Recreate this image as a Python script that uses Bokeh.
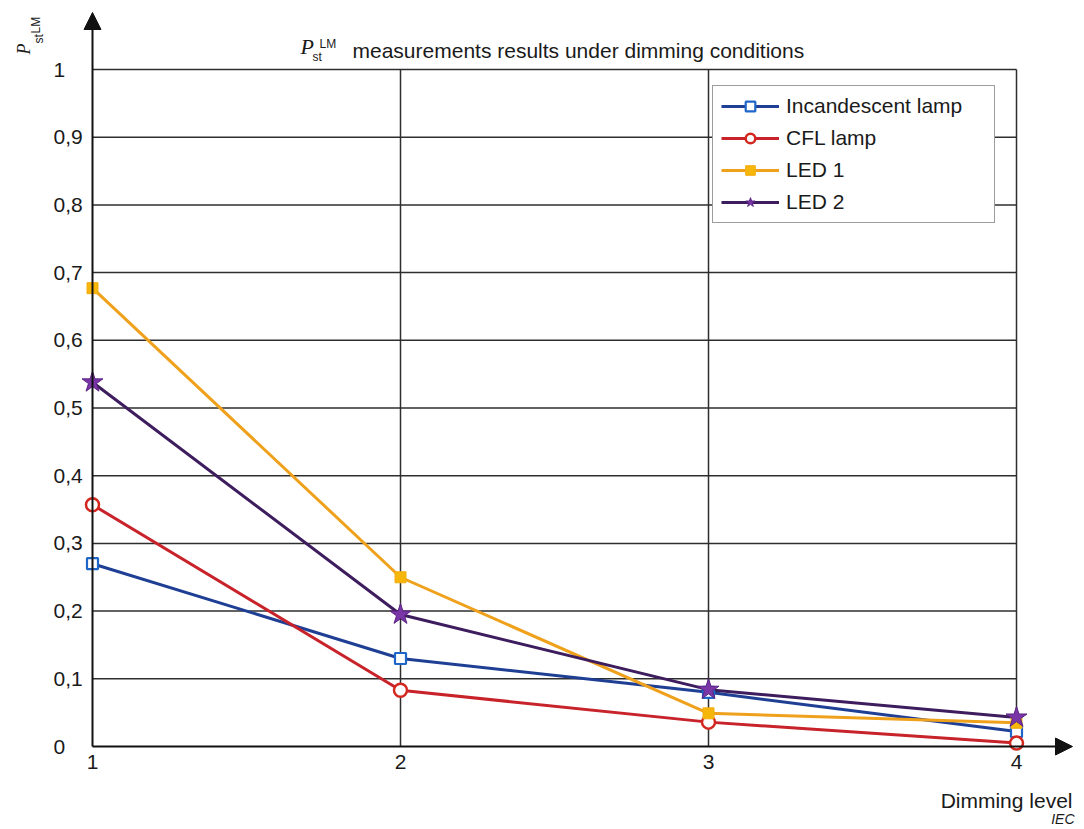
import math

from bokeh.plotting import figure
from bokeh.models import (Range1d, Label, Legend, LegendItem, Arrow, NormalHead)
from bokeh.core.properties import value
from bokeh.embed import file_html
from bokeh.resources import INLINE

# ---- data -------------------------------------------------------------
dimming_levels = [1, 2, 3, 4]
incandescent = [0.27, 0.13, 0.08, 0.022]
cfl = [0.357, 0.083, 0.036, 0.005]
led1 = [0.677, 0.25, 0.049, 0.035]
led2 = [0.538, 0.195, 0.084, 0.043]

y_ticks = [0, 0.1, 0.2, 0.3, 0.4, 0.5, 0.6, 0.7, 0.8, 0.9, 1]
y_tick_labels = ["0", "0,1", "0,2", "0,3", "0,4", "0,5", "0,6", "0,7",
                 "0,8", "0,9", "1"]
x_ticks = [1, 2, 3, 4]
x_tick_labels = ["1", "2", "3", "4"]

# ---- styling ----------------------------------------------------------
FONT = "Liberation Sans"
TEXT = "#1a1a1a"
GRID = "#2e2e2e"
AXIS = "#111111"
W, H = 1084, 829

# layout: 308 px per dimming level, 677 px per unit of Pst,
# level 1 / Pst 0 sits at canvas pixel (92, 746)
PX_X, PX_Y = 308.0, 677.0
X0_PX, Y0_PX = 92.0, 746.0


def at(px, py):
    """Canvas pixel position -> data coordinates (for text placement)."""
    return 1 + (px - X0_PX) / PX_X, (Y0_PX - py) / PX_Y


x_lo, y_lo = at(0, H)
x_hi, y_hi = at(W, 0)

p = figure(width=W, height=H,
           x_range=Range1d(x_lo, x_hi), y_range=Range1d(y_lo, y_hi),
           x_axis_location=None, y_axis_location=None,
           output_backend="svg", toolbar_location=None, min_border=0)
p.outline_line_color = None
p.background_fill_color = "white"
p.border_fill_color = "white"
p.xgrid.visible = False
p.ygrid.visible = False

# grid box: horizontal lines at each tick, vertical lines at levels 2..4
h_grid = [t for t in y_ticks if t > 0]
p.segment(x0=x_ticks[0], y0=h_grid, x1=x_ticks[-1], y1=h_grid,
          line_color=GRID, line_width=1.5)
v_grid = x_ticks[1:]
p.segment(x0=v_grid, y0=y_ticks[0], x1=v_grid, y1=y_ticks[-1],
          line_color=GRID, line_width=1.5)

# axis arrows
x_tip, _ = at(1072, 0)
_, y_tip = at(0, 12)
p.add_layout(Arrow(end=NormalHead(size=17, fill_color=AXIS, line_color=AXIS),
                   x_start=x_ticks[0], y_start=y_ticks[0], x_end=x_tip,
                   y_end=y_ticks[0], line_color=AXIS, line_width=2))
p.add_layout(Arrow(end=NormalHead(size=17, fill_color=AXIS, line_color=AXIS),
                   x_start=x_ticks[0], y_start=y_ticks[0], x_end=x_ticks[0],
                   y_end=y_tip, line_color=AXIS, line_width=2))

# tick labels
p.text(x=x_ticks[0], y=y_ticks, text=y_tick_labels, x_offset=-39,
       text_align="left", text_baseline="middle", text_font=value(FONT),
       text_font_size="21px", text_color=TEXT)
p.text(x=x_ticks, y=y_ticks[0], text=x_tick_labels, y_offset=8,
       text_align="center", text_baseline="top", text_font=value(FONT),
       text_font_size="21px", text_color=TEXT)

# ---- series -----------------------------------------------------------
series = [
    ("Incandescent lamp", incandescent, "#1f3f95",
     dict(marker="square", size=11, fill_color="white", line_color="#1e66c8",
          line_width=2.2)),
    ("CFL lamp", cfl, "#c8222a",
     dict(marker="circle", size=13, fill_color="white", line_color="#d2281f",
          line_width=2.5)),
    ("LED 1", led1, "#efa11c",
     dict(marker="square", size=11, fill_color="#f6b70a", line_color="#f3ac12",
          line_width=1)),
    ("LED 2", led2, "#3d1d5e",
     dict(marker="star", size=22, fill_color="#7a36a6", line_color="#5a2284",
          line_width=1)),
]

line_renderers = []
for name, values, color, _m in series:
    line_renderers.append(p.line(dimming_levels, values, line_color=color,
                                 line_width=3))
marker_renderers = []
for name, values, color, m in series:
    marker_renderers.append(p.scatter(dimming_levels, values, **m))

items = [LegendItem(label=s[0], renderers=[lr, mr])
         for s, lr, mr in zip(series, line_renderers, marker_renderers)]
legend = Legend(items=items, location=(712, H - 223), orientation="vertical",
                label_text_font=FONT, label_text_font_size="21px",
                label_text_color=TEXT,
                glyph_width=58, glyph_height=24, label_height=24,
                label_width=200, label_standoff=7, spacing=8, padding=8,
                margin=0, border_line_color="#3a3a3a", border_line_width=1.5,
                background_fill_color="white", background_fill_alpha=1)
p.add_layout(legend)


# ---- texts ------------------------------------------------------------
def label(text, px, py, size, font=FONT, style="normal", align="left",
          baseline="alphabetic", angle=0.0):
    x, y = at(px, py)
    p.add_layout(Label(x=x, y=y, text=text, text_font=font,
                       text_font_style=style, text_font_size=size,
                       text_color=TEXT, text_align=align,
                       text_baseline=baseline, angle=angle))


# chart title with P_st^LM symbol
label("P", 300, 46, "22px", font="Liberation Serif", style="italic")
label("LM", 319, 43, "12px")
label("st", 312, 56, "12px")
label("measurements results under dimming conditions", 352, 50, "21px")

# vertical axis title, rotated
label("P", 23, 54, "18px", font="Liberation Serif", style="italic",
      angle=math.pi / 2)
label("LM", 35, 33, "12px", angle=math.pi / 2)
label("st", 38, 43, "12px", angle=math.pi / 2)

# horizontal axis title and source mark
label("Dimming level", 1072, 800, "21px", align="right")
label("IEC", 1074, 818, "14px", style="italic", align="right")

open("out.html", "w").write(file_html(p, INLINE))
